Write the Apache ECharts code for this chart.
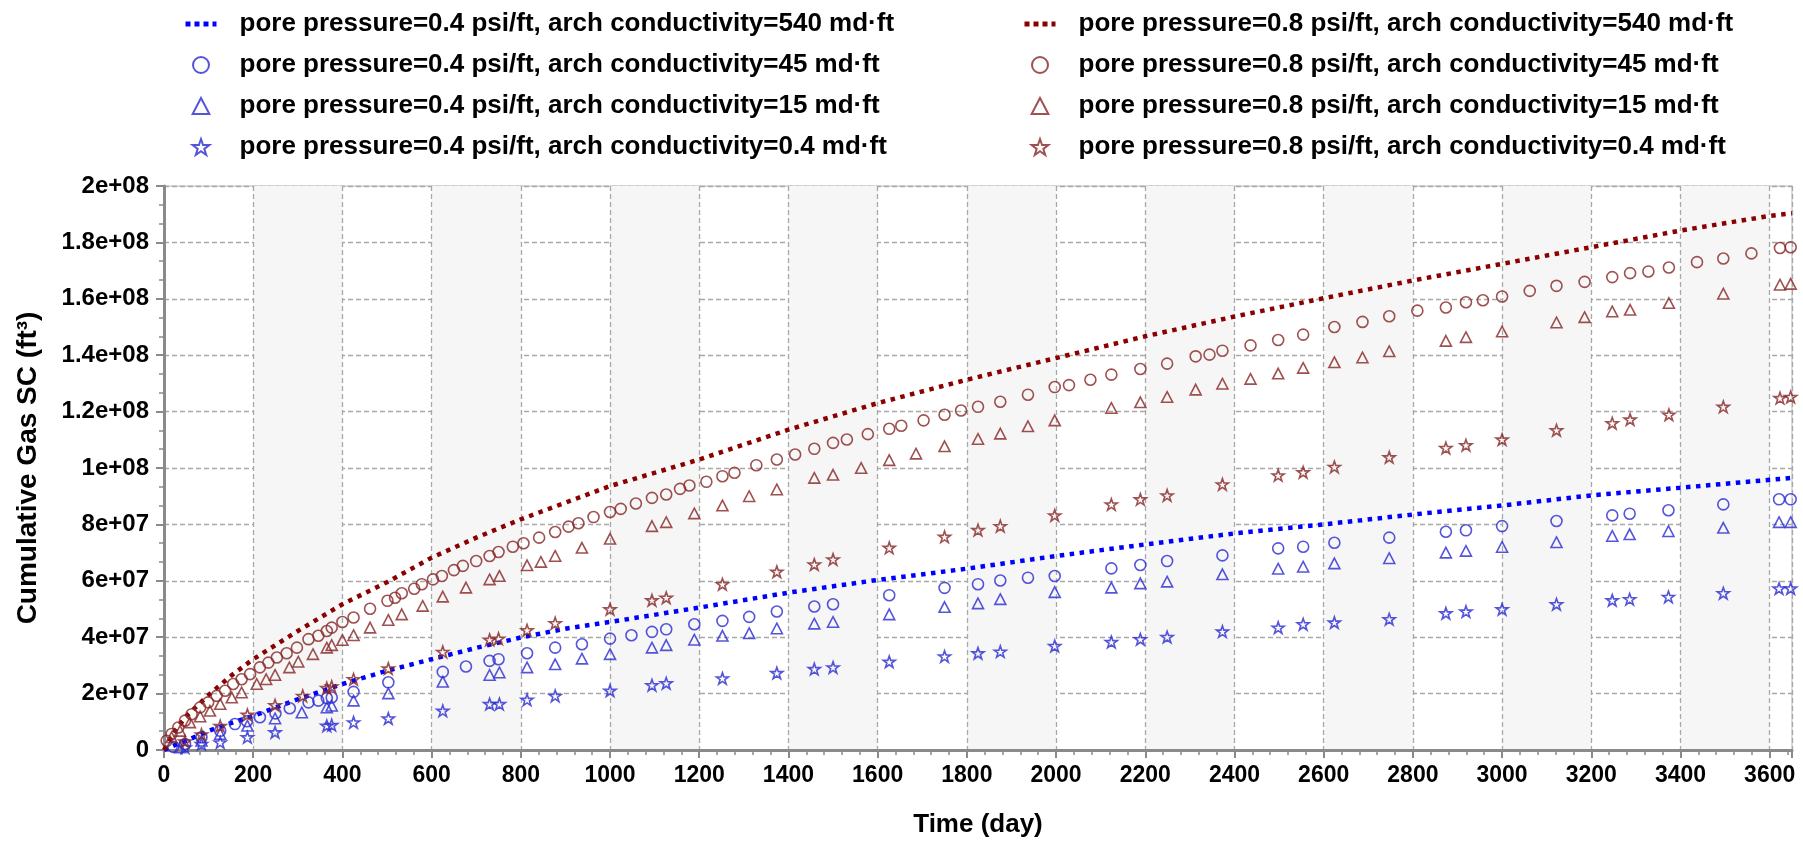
<!DOCTYPE html>
<html lang="en">
<head>
    <meta charset="UTF-8">
    <title>Cumulative Gas SC</title>
    <script src="https://cdn.jsdelivr.net/npm/echarts@6/dist/echarts.min.js"></script>
    <style>
        html, body { margin: 0; padding: 0; background: #fff; }
    </style>
</head>
<body>
<div id="main" style="width: 1803px;height:843px;"></div>
<script type="text/javascript">
    // values are in millions of ft3
    var M = 1e6;

    var lineDays    = [0, 25, 50, 100, 150, 200, 300, 400, 500, 600, 700, 800, 900, 1000, 1200, 1400, 1600, 1800, 2000, 2200, 2400, 2600, 2800, 3000, 3200, 3400, 3600, 3650];
    var line04_540  = [0, 1.8, 3.3, 6.8, 9.5, 12.1, 18.0, 23.4, 28.1, 32.2, 36.2, 39.9, 43.0, 45.4, 50.5, 55.8, 60.3, 64.3, 68.8, 72.9, 76.8, 80.0, 83.5, 86.7, 90.3, 93.0, 95.8, 96.5];
    var line08_540  = [0, 7.0, 12.0, 19.5, 26.3, 32.2, 42.2, 51.7, 59.5, 68.2, 75.3, 81.8, 87.7, 93.6, 103.0, 113.6, 123.0, 131.3, 139.0, 146.7, 153.7, 160.2, 166.5, 172.4, 178.3, 184.2, 189.4, 190.3];

    var c08Days = [6, 17, 32, 47, 62, 81, 99, 118, 137, 155, 174, 193, 215, 234, 253, 275, 298, 324, 346, 365, 376, 400, 425, 462, 501, 518, 533, 561, 578, 603, 623, 650, 670, 700, 730, 750, 782, 806, 841, 877, 907, 929, 963, 1000, 1024, 1058, 1094, 1126, 1157, 1178, 1216, 1252, 1279, 1328, 1374, 1415, 1458, 1500, 1531, 1578, 1626, 1653, 1703, 1750, 1787, 1825, 1875, 1937, 1997, 2029, 2077, 2124, 2189, 2249, 2313, 2344, 2373, 2436, 2498, 2554, 2624, 2687, 2747, 2810, 2874, 2919, 2957, 3000, 3062, 3122, 3185, 3247, 3287, 3328, 3374, 3437, 3496, 3559, 3623, 3647];
    var c08_45  = [3.3, 5.7, 8.0, 10.4, 12.7, 15.1, 16.9, 19.2, 21.0, 23.4, 25.1, 26.9, 29.3, 31.0, 32.8, 34.3, 36.3, 39.3, 40.5, 42.2, 43.4, 45.4, 47.0, 50.1, 52.9, 54.0, 55.6, 57.2, 58.8, 60.5, 61.7, 63.8, 65.3, 67.0, 68.8, 70.2, 72.1, 73.3, 75.3, 77.3, 79.2, 80.4, 82.6, 84.4, 85.5, 87.4, 89.4, 90.6, 92.6, 93.8, 95.1, 97.1, 98.3, 101.0, 103.0, 104.8, 106.8, 108.9, 110.1, 112.0, 113.9, 115.0, 116.9, 118.9, 120.4, 121.7, 123.5, 126.0, 128.7, 129.4, 131.3, 133.1, 135.1, 137.0, 139.6, 140.2, 141.6, 143.5, 145.4, 147.3, 150.0, 151.8, 153.8, 155.8, 156.9, 158.8, 159.5, 160.8, 162.8, 164.6, 166.0, 167.7, 169.1, 169.7, 171.1, 173.0, 174.3, 176.1, 178.0, 178.3];

    var t08Days = [17, 36, 58, 81, 103, 126, 152, 174, 208, 229, 249, 281, 301, 334, 365, 376, 400, 425, 462, 503, 533, 580, 625, 677, 730, 752, 814, 845, 877, 937, 1000, 1094, 1126, 1189, 1252, 1312, 1374, 1458, 1500, 1563, 1626, 1686, 1750, 1825, 1875, 1937, 1997, 2124, 2189, 2249, 2313, 2373, 2436, 2498, 2554, 2624, 2687, 2747, 2874, 2919, 3000, 3122, 3185, 3247, 3287, 3374, 3496, 3623, 3647];
    var t08_15  = [4.5, 6.8, 9.8, 11.9, 13.9, 16.3, 18.6, 20.4, 23.4, 25.1, 26.6, 29.3, 31.3, 34.0, 36.3, 37.2, 39.0, 40.7, 43.4, 46.1, 48.1, 51.1, 54.4, 57.6, 60.5, 61.7, 65.5, 66.7, 68.8, 71.7, 74.9, 79.4, 80.8, 83.9, 86.7, 90.0, 92.4, 96.5, 97.6, 100.0, 102.8, 105.1, 107.7, 110.3, 112.2, 114.8, 116.9, 121.3, 123.3, 125.2, 127.8, 129.9, 131.6, 133.5, 135.5, 137.5, 139.2, 141.4, 145.1, 146.4, 148.4, 151.6, 153.5, 155.5, 156.1, 158.5, 161.8, 165.0, 165.3];

    var s08Days = [47, 84, 126, 187, 249, 311, 365, 376, 425, 503, 625, 730, 750, 814, 877, 1000, 1094, 1126, 1252, 1374, 1458, 1500, 1626, 1750, 1825, 1875, 1997, 2124, 2189, 2249, 2373, 2498, 2554, 2624, 2747, 2874, 2919, 3000, 3122, 3247, 3287, 3374, 3496, 3623, 3647];
    var s08_04  = [3.0, 5.5, 8.5, 12.5, 15.9, 19.2, 22.0, 22.5, 25.1, 28.9, 34.8, 39.1, 39.5, 42.5, 45.0, 49.9, 53.1, 54.0, 58.8, 63.2, 65.8, 67.6, 71.7, 75.6, 78.0, 79.4, 83.2, 87.1, 88.9, 90.3, 94.2, 97.4, 98.5, 100.4, 103.8, 107.1, 108.1, 110.1, 113.4, 115.9, 117.2, 118.9, 121.7, 124.8, 125.2];

    var c04Days = [21, 47, 84, 126, 159, 186, 215, 250, 282, 324, 346, 365, 376, 425, 503, 625, 677, 730, 750, 814, 877, 937, 1000, 1048, 1094, 1126, 1189, 1252, 1312, 1374, 1458, 1500, 1626, 1750, 1825, 1875, 1937, 1997, 2124, 2189, 2249, 2373, 2498, 2554, 2624, 2747, 2874, 2919, 3000, 3122, 3247, 3286, 3373, 3496, 3621, 3647];
    var c04_45  = [1.1, 2.1, 4.5, 6.8, 9.2, 10.2, 11.6, 13.0, 14.8, 16.9, 17.5, 18.4, 18.6, 20.6, 24.0, 27.7, 29.6, 31.6, 32.2, 34.3, 36.3, 37.5, 39.5, 40.7, 41.9, 42.8, 44.6, 45.8, 47.2, 49.1, 50.9, 51.7, 54.9, 57.5, 58.8, 60.1, 61.1, 61.7, 64.4, 65.6, 67.0, 69.0, 71.5, 72.1, 73.5, 75.3, 77.4, 77.9, 79.4, 81.2, 83.2, 83.8, 85.0, 87.1, 88.9, 88.9];

    var t04Days = [36, 84, 126, 187, 249, 309, 365, 376, 425, 503, 625, 730, 752, 814, 877, 937, 1000, 1094, 1126, 1189, 1252, 1312, 1374, 1458, 1500, 1626, 1750, 1825, 1875, 1997, 2124, 2189, 2249, 2373, 2498, 2554, 2624, 2747, 2874, 2919, 3000, 3122, 3247, 3286, 3373, 3496, 3621, 3647];
    var t04_15  = [0.9, 3.3, 5.7, 8.6, 11.2, 13.3, 15.1, 15.7, 17.5, 20.1, 24.2, 26.6, 27.5, 29.3, 30.4, 32.4, 34.0, 36.3, 37.2, 39.1, 40.5, 41.4, 43.1, 44.8, 45.4, 48.1, 50.7, 52.0, 53.5, 56.0, 57.6, 59.1, 59.7, 62.3, 64.3, 65.0, 66.2, 68.0, 70.0, 70.6, 72.0, 73.7, 75.9, 76.5, 77.6, 78.8, 80.8, 80.8];

    var s04Days = [47, 84, 126, 187, 249, 365, 376, 425, 503, 625, 730, 752, 814, 877, 1000, 1094, 1126, 1252, 1374, 1458, 1500, 1626, 1750, 1825, 1875, 1997, 2124, 2189, 2249, 2373, 2498, 2554, 2624, 2747, 2874, 2919, 3000, 3122, 3247, 3286, 3373, 3496, 3621, 3647];
    var s04_04  = [0.9, 2.1, 2.7, 4.5, 6.3, 8.6, 8.85, 9.8, 11.2, 13.9, 16.3, 16.3, 17.8, 19.2, 21.0, 23.0, 23.7, 25.4, 27.3, 28.7, 29.3, 31.3, 33.2, 34.3, 34.9, 36.9, 38.3, 39.3, 40.1, 42.0, 43.4, 44.6, 45.2, 46.4, 48.5, 49.1, 49.9, 51.7, 53.1, 53.5, 54.3, 55.6, 57.3, 57.3];

    var names = [
        'pore pressure=0.4 psi/ft, arch conductivity=540 md\u00b7ft',
        'pore pressure=0.4 psi/ft, arch conductivity=45 md\u00b7ft',
        'pore pressure=0.4 psi/ft, arch conductivity=15 md\u00b7ft',
        'pore pressure=0.4 psi/ft, arch conductivity=0.4 md\u00b7ft',
        'pore pressure=0.8 psi/ft, arch conductivity=540 md\u00b7ft',
        'pore pressure=0.8 psi/ft, arch conductivity=45 md\u00b7ft',
        'pore pressure=0.8 psi/ft, arch conductivity=15 md\u00b7ft',
        'pore pressure=0.8 psi/ft, arch conductivity=0.4 md\u00b7ft'
    ];

    var BLUE_LINE = '#0000ff', RED_LINE = '#8b0000';
    var BLUE_MARK = '#2a2ad2', RED_MARK = '#862626';
    var STAR = 'path://M50,2 L61.5,36 L97,36 L68.5,57.5 L79.5,92 L50,71 L20.5,92 L31.5,57.5 L3,36 L38.5,36 Z';
    var TRI = 'path://M50,4 L96,92 L4,92 Z';
    var FONT = '"Liberation Sans", Arial, Helvetica, sans-serif';

    function pairs(days, vals) {
        var out = [];
        for (var i = 0; i < days.length; i++) {
            out.push([days[i], vals[i] * M]);
        }
        return out;
    }

    function sciLabel(v) {
        if (v === 0) return '0';
        var s = v.toExponential();
        var p = s.split('e');
        var sign = p[1].charAt(0);
        var exp = p[1].slice(1);
        if (exp.length < 2) exp = '0' + exp;
        return p[0] + 'e' + sign + exp;
    }

    // dotted curve; the symbol is kept invisible so the legend shows only the dots
    function dotted(name, data, color) {
        return {
            name: name,
            type: 'line',
            data: data,
            symbol: 'circle',
            symbolSize: 0,
            showSymbol: false,
            smooth: false,
            lineStyle: { color: color, width: 4.5, type: [4.5, 5.5], cap: 'butt' },
            itemStyle: { color: 'rgba(0,0,0,0)', borderWidth: 0 },
            z: 3
        };
    }

    function marks(name, data, color, symbol, size) {
        return {
            name: name,
            type: 'scatter',
            data: data,
            symbol: symbol,
            symbolSize: size,
            symbolKeepAspect: true,
            itemStyle: { color: 'rgba(0,0,0,0)', borderColor: color, borderWidth: 1.6 },
            z: 4
        };
    }

    var myEChart = echarts.init(document.getElementById('main'));

    var legendText = {
        fontFamily: FONT,
        fontWeight: 'bold',
        fontSize: 26,
        color: '#000',
        lineHeight: 30,
        padding: [0, 0, 0, 18]
    };
    var legendLine = { width: 5, type: [5, 4], cap: 'butt' };

    myEChart.setOption({
        animation: false,
        backgroundColor: '#ffffff',
        legend: [{
            orient: 'vertical',
            left: 178,
            top: 4,
            itemWidth: 31,
            itemHeight: 16,
            itemGap: 11,
            textStyle: legendText,
            lineStyle: legendLine,
            data: names.slice(0, 4)
        }, {
            orient: 'vertical',
            left: 1017,
            top: 4,
            itemWidth: 31,
            itemHeight: 16,
            itemGap: 11,
            textStyle: legendText,
            lineStyle: legendLine,
            data: names.slice(4, 8)
        }],
        grid: {
            left: 164,
            right: 11,
            top: 186,
            bottom: 92,
            show: true,
            borderColor: '#cfcfcf',
            borderWidth: 1.5,
            backgroundColor: 'rgba(0,0,0,0)'
        },
        xAxis: {
            type: 'value',
            min: 0,
            max: 3650,
            interval: 200,
            name: 'Time (day)',
            nameLocation: 'middle',
            nameGap: 62,
            nameTextStyle: { fontFamily: FONT, fontWeight: 'bold', fontSize: 26, color: '#000' },
            axisLine: { show: true, onZero: false, lineStyle: { color: '#8a8a8a', width: 3 } },
            axisTick: { show: true, inside: false, length: 8, lineStyle: { color: '#8a8a8a', width: 2 } },
            minorTick: { show: true, splitNumber: 5, length: 5, lineStyle: { color: '#8a8a8a', width: 1.5 } },
            axisLabel: {
                fontFamily: FONT, fontWeight: 'bold', fontSize: 23, color: '#000',
                margin: 14, showMaxLabel: false,
                formatter: function (v) { return String(v); }
            },
            splitLine: { show: true, lineStyle: { color: '#a8a8a8', width: 1.3, type: [5, 3] } },
            splitArea: { show: true, areaStyle: { color: ['rgba(255,255,255,0)', '#f6f6f6'] } }
        },
        yAxis: {
            type: 'value',
            min: 0,
            max: 2e8,
            interval: 2e7,
            name: 'Cumulative Gas SC (ft\u00b3)',
            nameLocation: 'middle',
            nameGap: 122,
            nameRotate: 90,
            nameTextStyle: { fontFamily: FONT, fontWeight: 'bold', fontSize: 28, color: '#000' },
            axisLine: { show: true, onZero: false, lineStyle: { color: '#8a8a8a', width: 3 } },
            axisTick: { show: true, inside: false, length: 8, lineStyle: { color: '#8a8a8a', width: 2 } },
            minorTick: { show: true, splitNumber: 3, length: 5, lineStyle: { color: '#8a8a8a', width: 1.5 } },
            axisLabel: {
                fontFamily: FONT, fontWeight: 'bold', fontSize: 24, color: '#000',
                margin: 15,
                formatter: sciLabel
            },
            splitLine: { show: true, lineStyle: { color: '#a8a8a8', width: 1.3, type: [5, 3] } }
        },
        series: [
            dotted(names[0], pairs(lineDays, line04_540), BLUE_LINE),
            marks(names[1], pairs(c04Days, c04_45), BLUE_MARK, 'circle', 11),
            marks(names[2], pairs(t04Days, t04_15), BLUE_MARK, TRI, 11),
            marks(names[3], pairs(s04Days, s04_04), BLUE_MARK, STAR, 12),
            dotted(names[4], pairs(lineDays, line08_540), RED_LINE),
            marks(names[5], pairs(c08Days, c08_45), RED_MARK, 'circle', 11),
            marks(names[6], pairs(t08Days, t08_15), RED_MARK, TRI, 11),
            marks(names[7], pairs(s08Days, s08_04), RED_MARK, STAR, 12)
        ]
    });
</script>
</body>
</html>
